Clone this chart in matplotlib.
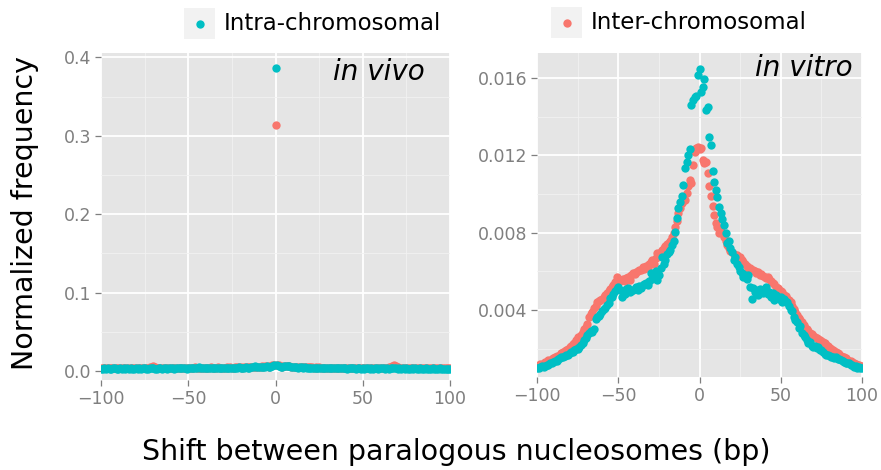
import numpy as np
import matplotlib
matplotlib.use("Agg")
import matplotlib.pyplot as plt
from matplotlib.patches import Rectangle
from matplotlib.lines import Line2D

# shift between paralogous nucleosomes (bp)
shift = np.arange(-100, 101)

# in vivo, normalized frequency
vivo_intra = [
    .0030, .0028, .0031, .0029, .0032, .0030, .0027, .0031, .0033, .0029,
    .0030, .0032, .0028, .0031, .0030, .0034, .0029, .0031, .0030, .0028,
    .0032, .0030, .0033, .0029, .0031, .0035, .0030, .0028, .0032, .0031,
    .0034, .0030, .0029, .0033, .0031, .0030, .0036, .0032, .0029, .0031,
    .0033, .0035, .0030, .0032, .0038, .0034, .0031, .0036, .0033, .0030,
    .0032, .0035, .0040, .0037, .0033, .0041, .0045, .0038, .0034, .0036,
    .0039, .0035, .0033, .0037, .0040, .0036, .0034, .0038, .0035, .0033,
    .0036, .0040, .0037, .0034, .0039, .0042, .0038, .0036, .0041, .0044,
    .0040, .0038, .0043, .0047, .0041, .0039, .0045, .0052, .0060, .0055,
    .0048, .0044, .0050, .0046, .0053, .0058, .0049, .0055, .0068, .0072,
    0.386,
    .0075, .0066, .0054, .0050, .0057, .0062, .0068, .0059, .0051, .0047,
    .0050, .0046, .0043, .0048, .0044, .0041, .0045, .0040, .0042, .0038,
    .0041, .0037, .0040, .0036, .0039, .0035, .0038, .0036, .0034, .0037,
    .0035, .0033, .0036, .0034, .0032, .0035, .0033, .0031, .0034, .0032,
    .0030, .0033, .0031, .0034, .0032, .0030, .0033, .0031, .0029, .0032,
    .0030, .0033, .0031, .0029, .0032, .0030, .0034, .0031, .0029, .0032,
    .0031, .0033, .0030, .0032, .0029, .0031, .0035, .0038, .0033, .0030,
    .0032, .0029, .0031, .0030, .0033, .0030, .0028, .0031, .0029, .0032,
    .0030, .0028, .0031, .0029, .0030, .0032, .0028, .0030, .0029, .0031,
    .0028, .0030, .0029, .0031, .0027, .0030, .0028, .0029, .0030, .0028,
]
vivo_inter = [
    .0035, .0032, .0036, .0034, .0038, .0033, .0035, .0037, .0032, .0036,
    .0034, .0037, .0033, .0035, .0039, .0036, .0034, .0038, .0035, .0033,
    .0036, .0034, .0038, .0035, .0037, .0040, .0036, .0043, .0048, .0052,
    .0062, .0050, .0041, .0037, .0035, .0038, .0036, .0034, .0037, .0035,
    .0038, .0036, .0040, .0037, .0039, .0042, .0038, .0036, .0040, .0037,
    .0039, .0042, .0038, .0041, .0044, .0040, .0043, .0039, .0041, .0038,
    .0042, .0039, .0041, .0044, .0040, .0038, .0042, .0045, .0041, .0039,
    .0043, .0040, .0044, .0041, .0046, .0043, .0040, .0045, .0048, .0044,
    .0047, .0043, .0046, .0050, .0045, .0048, .0052, .0049, .0055, .0051,
    .0054, .0050, .0057, .0053, .0058, .0061, .0055, .0062, .0070, .0078,
    0.314,
    .0080, .0071, .0060, .0056, .0062, .0058, .0065, .0060, .0055, .0052,
    .0055, .0051, .0048, .0052, .0049, .0046, .0050, .0045, .0047, .0044,
    .0046, .0043, .0045, .0042, .0044, .0041, .0043, .0040, .0042, .0039,
    .0041, .0038, .0040, .0042, .0039, .0037, .0040, .0038, .0036, .0039,
    .0037, .0040, .0038, .0036, .0039, .0037, .0035, .0038, .0036, .0039,
    .0037, .0035, .0038, .0036, .0039, .0037, .0035, .0038, .0041, .0037,
    .0036, .0039, .0037, .0042, .0048, .0055, .0068, .0075, .0058, .0046,
    .0040, .0037, .0035, .0038, .0036, .0034, .0037, .0035, .0033, .0036,
    .0034, .0037, .0035, .0033, .0036, .0034, .0032, .0035, .0033, .0036,
    .0034, .0032, .0035, .0033, .0036, .0034, .0032, .0035, .0033, .0034,
]

# in vitro, normalized frequency
vitro_intra = [
    .00100, .00098, .00105, .00110, .00104, .00112, .00118, .00115, .00124, .00128,
    .00132, .00138, .00135, .00145, .00150, .00158, .00155, .00165, .00170, .00168,
    .00178, .00185, .00182, .00195, .00200, .00198, .00210, .00222, .00230, .00245,
    .00258, .00270, .00282, .00290, .00288, .00300, .00352, .00365, .00372, .00380,
    .00395, .00405, .00412, .00425, .00438, .00462, .00470, .00485, .00500, .00510,
    .00520, .00505, .00470, .00498, .00485, .00510, .00515, .00495, .00500, .00505,
    .00510, .00520, .00505, .00525, .00515, .00530, .00535, .00540, .00528, .00550,
    .00590, .00560, .00575, .00600, .00555, .00580, .00620, .00675, .00640, .00660,
    .00690, .00700, .00710, .00735, .00760, .00805, .00874, .00926, .00960, .00990,
    .01046, .01133, .01167, .01200, .01235, .01459, .01485, .01500, .01510, .01614,
    .01649,
    .01530, .01553, .01597, .01433, .01450, .01295, .01253, .01120, .01063, .01020,
    .00986, .00934, .00900, .00870, .00840, .00800, .00745, .00760, .00720, .00700,
    .00660, .00675, .00640, .00624, .00600, .00590, .00572, .00580, .00560, .00580,
    .00520, .00460, .00512, .00495, .00505, .00480, .00510, .00503, .00490, .00500,
    .00520, .00485, .00495, .00470, .00490, .00450, .00480, .00470, .00460, .00470,
    .00443, .00455, .00440, .00443, .00420, .00400, .00395, .00365, .00350, .00340,
    .00305, .00320, .00280, .00270, .00260, .00245, .00228, .00235, .00215, .00210,
    .00212, .00205, .00210, .00195, .00193, .00185, .00175, .00170, .00167, .00162,
    .00158, .00160, .00150, .00159, .00148, .00145, .00142, .00135, .00130, .00128,
    .00125, .00124, .00118, .00115, .00107, .00110, .00102, .00104, .00100, .00099,
]
vitro_inter = [
    .00110, .00115, .00120, .00118, .00125, .00130, .00133, .00140, .00138, .00145,
    .00150, .00155, .00162, .00160, .00170, .00178, .00182, .00190, .00195, .00200,
    .00210, .00215, .00225, .00232, .00245, .00262, .00255, .00270, .00285, .00300,
    .00315, .00330, .00365, .00380, .00390, .00410, .00420, .00440, .00445, .00450,
    .00460, .00470, .00480, .00486, .00500, .00510, .00520, .00530, .00545, .00572,
    .00540, .00550, .00555, .00560, .00550, .00565, .00570, .00555, .00580, .00590,
    .00585, .00595, .00600, .00605, .00610, .00624, .00615, .00630, .00620, .00640,
    .00650, .00660, .00640, .00670, .00694, .00680, .00700, .00710, .00720, .00730,
    .00740, .00745, .00760, .00780, .00800, .00830, .00860, .00900, .00930, .00953,
    .00975, .00970, .01005, .01040, .01072, .01060, .01150, .01220, .01240, .01245,
    .01235,
    .01240, .01175, .01160, .01165, .01110, .01040, .00990, .00940, .00890, .00850,
    .00830, .00800, .00810, .00800, .00780, .00760, .00735, .00720, .00705, .00700,
    .00690, .00680, .00684, .00670, .00675, .00660, .00650, .00640, .00630, .00620,
    .00616, .00610, .00605, .00600, .00590, .00595, .00580, .00585, .00575, .00572,
    .00565, .00572, .00560, .00550, .00540, .00535, .00520, .00512, .00505, .00500,
    .00495, .00480, .00475, .00460, .00450, .00440, .00420, .00405, .00390, .00375,
    .00360, .00350, .00340, .00325, .00310, .00300, .00290, .00282, .00275, .00268,
    .00262, .00255, .00250, .00245, .00240, .00235, .00228, .00220, .00212, .00205,
    .00200, .00195, .00190, .00185, .00178, .00172, .00165, .00160, .00155, .00150,
    .00142, .00138, .00135, .00130, .00125, .00120, .00118, .00115, .00112, .00110,
]

x_ticks = [-100, -50, 0, 50, 100]
vivo_ticks = [0.0, 0.1, 0.2, 0.3, 0.4]
vitro_ticks = [0.004, 0.008, 0.012, 0.016]

RED = "#F8766D"
TEAL = "#00BFC4"
BG = "#E5E5E5"
TXT = "#7F7F7F"

fig = plt.figure(figsize=(8.81, 4.70), dpi=100)
W, H = 881.0, 470.0


def px_axes(l, t, r, b):
    return fig.add_axes([l / W, 1 - b / H, (r - l) / W, (b - t) / H])


def style(ax, yticks, yminor, ylabels):
    ax.set_facecolor(BG)
    for s in ax.spines.values():
        s.set_visible(False)
    ax.set_xlim(-100, 100)
    ax.set_xticks(x_ticks)
    ax.set_xticks([-75, -25, 25, 75], minor=True)
    ax.set_yticks(yticks)
    ax.set_yticklabels(ylabels)
    ax.set_yticks(yminor, minor=True)
    ax.grid(True, which="major", color="white", lw=1.3)
    ax.grid(True, which="minor", color="#F2F2F2", lw=0.6)
    ax.set_axisbelow(True)
    ax.tick_params(which="major", length=4, width=0.9, color=TXT,
                   labelcolor=TXT, labelsize=12.5, pad=3)
    ax.tick_params(which="minor", length=0)


ax1 = px_axes(101, 53, 450, 380)
ax1.scatter(shift, vivo_inter, s=36, c=RED, lw=0, zorder=3)
ax1.scatter(shift, vivo_intra, s=36, c=TEAL, lw=0, zorder=4)
ax1.set_ylim(-0.0116, 0.4055)
style(ax1, vivo_ticks, [0.05, 0.15, 0.25, 0.35],
      ["%.1f" % v for v in vivo_ticks])
ax1.text(0.928, 0.943, "in vivo", transform=ax1.transAxes, ha="right",
         va="center", fontsize=20, style="italic", color="black")

ax2 = px_axes(537, 53, 862, 377)
ax2.scatter(shift, vitro_inter, s=36, c=RED, lw=0, zorder=3)
ax2.scatter(shift, vitro_intra, s=36, c=TEAL, lw=0, zorder=4)
ax2.set_ylim(0.00054, 0.0173)
style(ax2, vitro_ticks, [0.002, 0.006, 0.010, 0.014],
      ["%.3f" % v for v in vitro_ticks])
ax2.text(0.972, 0.955, "in vitro", transform=ax2.transAxes, ha="right",
         va="center", fontsize=20, style="italic", color="black")

fig.text(25 / W, 1 - 213 / H, "Normalized frequency", rotation=90,
         ha="center", va="center", fontsize=20.5)
fig.text(456 / W, 1 - 452 / H, "Shift between paralogous nucleosomes (bp)",
         ha="center", va="center", fontsize=20.5)

# legend keys, one above each panel
for kx, ky, col, label in [(184, 8, TEAL, "Intra-chromosomal"),
                           (551, 7, RED, "Inter-chromosomal")]:
    fig.add_artist(Rectangle((kx / W, 1 - (ky + 31) / H), 31 / W, 31 / H,
                             transform=fig.transFigure, color="#F2F2F2", lw=0))
    fig.add_artist(Line2D([(kx + 15.5) / W], [1 - (ky + 15.5) / H],
                          transform=fig.transFigure, marker="o", ms=6,
                          mec="none", mfc=col, ls="none"))
    fig.text((kx + 40) / W, 1 - (ky + 15.5) / H, label, ha="left",
             va="center", fontsize=16.5)

fig.savefig("out.png", dpi=100)
